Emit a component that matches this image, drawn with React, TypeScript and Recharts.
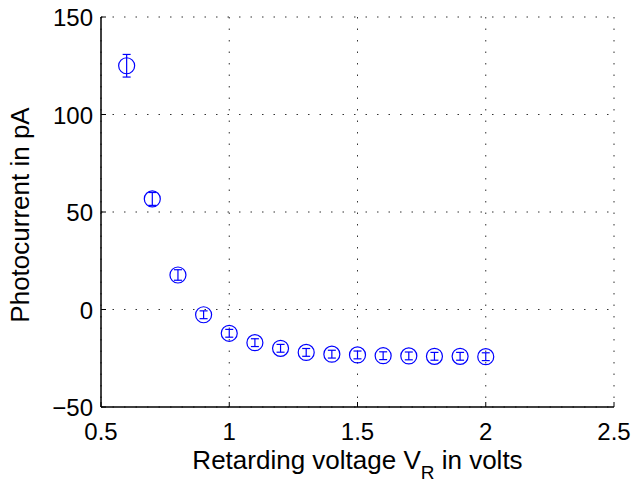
import { ScatterChart, Scatter, XAxis, YAxis, CartesianGrid, ErrorBar } from "recharts";

// retarding voltage (V) vs photocurrent (pA)
const voltages = [0.6, 0.7, 0.8, 0.9, 1.0, 1.1, 1.2, 1.3, 1.4, 1.5, 1.6, 1.7, 1.8, 1.9, 2.0];
const currents = [125, 56.7, 17.7, -2.7, -12.2, -17, -19.9, -22, -22.9, -23.3, -23.7, -23.8, -24, -24, -24.2];
const errors = [5.8, 3.3, 2.7, 2, 2, 2, 2, 2, 2, 2, 2, 2, 2, 2, 2];

const xTicks = [0.5, 1, 1.5, 2, 2.5];
const yTicks = [-50, 0, 50, 100, 150];

const data = voltages.map((v, i) => ({ v, i: currents[i], err: errors[i] }));

const FONT = "'Liberation Sans', Arial, Helvetica, sans-serif";
const TICK_LEN = 5;
const AXIS = { stroke: "#000", strokeWidth: 1.5 };

function BottomTick(props: any) {
  const { x, y, payload } = props;
  return (
    <g>
      <line x1={x} y1={y} x2={x} y2={y - TICK_LEN} stroke="#000" />
      <text x={x} y={y + 33} textAnchor="middle" fontFamily={FONT} fontSize={24} fill="#000">
        {payload.value}
      </text>
    </g>
  );
}

function TopTick(props: any) {
  const { x, y } = props;
  return <line x1={x} y1={y} x2={x} y2={y + TICK_LEN} stroke="#000" />;
}

function LeftTick(props: any) {
  const { x, y, payload } = props;
  const v = payload.value;
  return (
    <g>
      <line x1={x} y1={y} x2={x + TICK_LEN} y2={y} stroke="#000" />
      <text x={x - 8} y={y + 9} textAnchor="end" fontFamily={FONT} fontSize={24} fill="#000">
        {v < 0 ? "\u2212" + Math.abs(v) : v}
      </text>
    </g>
  );
}

function RightTick(props: any) {
  const { x, y } = props;
  return <line x1={x} y1={y} x2={x - TICK_LEN} y2={y} stroke="#000" />;
}

function Marker(props: any) {
  const { cx, cy } = props;
  return <circle cx={cx} cy={cy} r={8} fill="none" stroke="#0000ff" strokeWidth={1.2} />;
}

export default function App() {
  return (
    <div style={{ position: "absolute", left: 0, top: 0, background: "#fff" }}>
      <ScatterChart width={639} height={486} margin={{ top: 17, right: 25, bottom: 0, left: 0 }}>
        <CartesianGrid stroke="#333" strokeDasharray="1.5 10" />
        <XAxis
          type="number"
          dataKey="v"
          domain={[0.5, 2.5]}
          ticks={xTicks}
          height={79}
          tickSize={0}
          tickMargin={0}
          tick={<BottomTick />}
          axisLine={AXIS}
          label={{
            content: (p: any) => {
              const vb = p.viewBox;
              return (
                <text x={vb.x + vb.width / 2} y={vb.y + 62} textAnchor="middle" fontFamily={FONT} fontSize={26} fill="#000">
                  Retarding voltage V
                  <tspan fontSize={19} dy={10}>R</tspan>
                  <tspan dy={-10}> in volts</tspan>
                </text>
              );
            },
          }}
        />
        <XAxis
          xAxisId="top"
          orientation="top"
          type="number"
          domain={[0.5, 2.5]}
          ticks={xTicks}
          height={0}
          tickSize={0}
          tick={<TopTick />}
          axisLine={AXIS}
        />
        <YAxis
          type="number"
          dataKey="i"
          domain={[-50, 150]}
          ticks={yTicks}
          width={101}
          tickSize={0}
          tickMargin={0}
          tick={<LeftTick />}
          axisLine={AXIS}
          label={{
            content: (p: any) => {
              const vb = p.viewBox;
              const cx = vb.x + 29;
              const cy = vb.y + vb.height / 2 + 3;
              return (
                <text x={cx} y={cy} transform={`rotate(-90 ${cx} ${cy})`} textAnchor="middle" fontFamily={FONT} fontSize={26} fill="#000">
                  Photocurrent in pA
                </text>
              );
            },
          }}
        />
        <YAxis
          yAxisId="right"
          orientation="right"
          type="number"
          domain={[-50, 150]}
          ticks={yTicks}
          width={0}
          tickSize={0}
          tick={<RightTick />}
          axisLine={AXIS}
        />
        <Scatter data={data} shape={<Marker />} isAnimationActive={false}>
          <ErrorBar dataKey="err" direction="y" width={4} stroke="#0000ff" strokeWidth={1.2} />
        </Scatter>
      </ScatterChart>
    </div>
  );
}
